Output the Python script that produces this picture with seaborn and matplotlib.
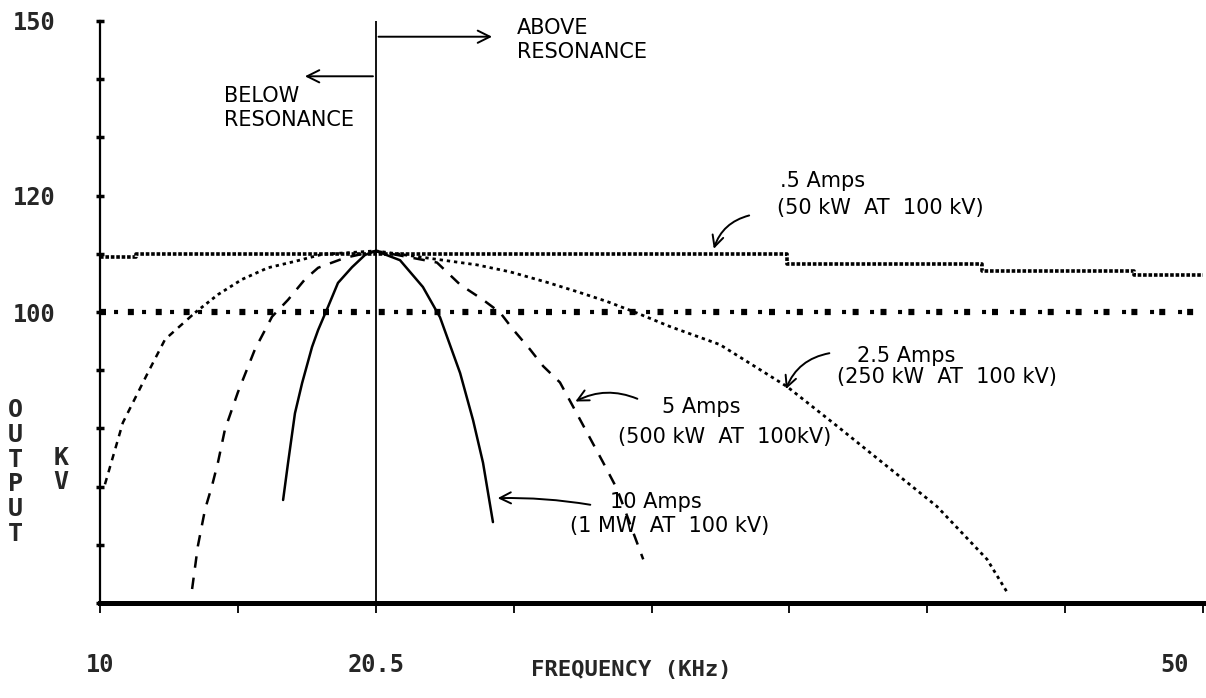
import numpy as np
import pandas as pd
import matplotlib
matplotlib.use("Agg")
import matplotlib.pyplot as plt
import matplotlib.transforms as mtransforms
import seaborn as sns
from matplotlib import font_manager

# ---------------- data ----------------
freq_ticks = [10, 15, 20, 25, 30, 35, 40, 45, 50]
freq_tick_labels = ["10", "", "20.5", "", "", "", "", "", "50"]
kv_ticks = [50, 60, 70, 80, 90, 100, 110, 120, 130, 140, 150]
kv_tick_labels = ["", "", "", "", "", "100", "", "120", "", "", "150"]

# 0.5 A (50 kW at 100 kV): stepped, nearly flat
half_amp_freq = [10.0, 11.3, 34.9, 42.0, 47.5, 50.0]
half_amp_kv = [109.4, 109.9, 108.2, 107.1, 106.3, 106.3]

# reference level
ref_freq = [10.0, 50.0]
ref_kv = [100.0, 100.0]

# 2.5 A (250 kW at 100 kV)
a25_freq = [10.18, 10.83, 11.74, 12.36, 13.45, 14.28, 15.15, 16.09, 17.07, 18.05,
            20.0, 23.67, 24.87, 26.21, 27.30, 28.39, 29.33, 30.67, 32.48, 34.91,
            36.73, 38.54, 40.35, 42.17, 42.89]
a25_kv = [70.4, 81.0, 89.6, 95.3, 99.9, 103.0, 105.6, 107.6, 108.7, 109.9,
          110.5, 108.1, 106.9, 105.1, 103.5, 101.8, 100.1, 97.5, 94.4, 87.2,
          80.4, 73.5, 66.6, 57.5, 51.9]

# 5 A (500 kW at 100 kV)
a5_freq = [13.34, 13.55, 13.81, 14.06, 14.28, 14.53, 15.00, 15.62, 16.24, 16.82,
           17.43, 17.91, 18.88, 20.0, 22.22, 23.06, 23.89, 24.51, 24.98, 25.59,
           26.07, 26.68, 27.15, 27.66, 28.24, 28.75, 29.70]
a5_kv = [52.4, 59.8, 66.1, 70.1, 74.2, 79.8, 86.2, 93.6, 99.2, 102.1,
         105.6, 107.6, 109.3, 110.5, 108.5, 104.7, 102.1, 99.9, 97.0, 93.6,
         90.7, 87.9, 83.8, 79.3, 74.2, 69.6, 57.5]

# 10 A (1 MW at 100 kV)
a10_freq = [16.64, 16.82, 17.07, 17.33, 17.69, 17.91, 18.27, 18.63, 19.14, 19.61,
            20.0, 20.88, 21.71, 22.33, 23.06, 23.53, 23.89, 24.25]
a10_kv = [67.7, 74.1, 82.6, 87.8, 94.0, 96.9, 100.9, 105.0, 107.7, 109.8,
          110.5, 108.9, 104.3, 99.1, 89.5, 81.4, 74.1, 63.9]

# ---------------- fonts ----------------
sns.set_theme(style="white")
names = {f.name for f in font_manager.fontManager.ttflist}
if "Liberation Sans Narrow" in names:
    bold_family = ["Liberation Sans Narrow", "DejaVu Sans"]
    tick_size, lab_size = 21, 19
else:
    bold_family = ["DejaVu Sans Mono", "DejaVu Sans"]
    tick_size, lab_size = 17, 16
plt.rcParams["font.family"] = ["DejaVu Sans"]
hand = dict(family=["DejaVu Sans"], fontsize=15, color="black")

# ---------------- figure ----------------
fig = plt.figure(figsize=(12.06, 6.98), dpi=100)
ax = fig.add_axes([100 / 1206, 1 - 603 / 698, 1103 / 1206, 582 / 698])
ax.set_xlim(10, 50)
ax.set_ylim(50, 150)
ax.set_facecolor("white")

# 0.5 A line
sns.lineplot(x=half_amp_freq, y=half_amp_kv, ax=ax, color="black", lw=2.6,
             drawstyle="steps-post", estimator=None, sort=False)
ax.lines[-1].set_linestyle((0, (1.0, 0.5)))

# 100 kV reference: alternating big and small dots
sns.lineplot(x=ref_freq, y=ref_kv, ax=ax, color="black", lw=4.5,
             estimator=None, sort=False)
ax.lines[-1].set_linestyle((0, (0.96, 3.5)))
sns.lineplot(x=ref_freq, y=ref_kv, ax=ax, color="black", lw=3.0,
             estimator=None, sort=False)
ax.lines[-1].set_linestyle((3.35, (0.96, 5.76)))

# 2.5 A: dashed lower-left branch, dotted elsewhere
a25_f = np.array(a25_freq)
a25_v = np.array(a25_kv)
split = int(np.argmax(a25_v >= 99.5))
sns.lineplot(x=a25_f[:split + 1], y=a25_v[:split + 1], ax=ax, color="black", lw=1.8,
             estimator=None, sort=False)
ax.lines[-1].set_linestyle((0, (2.6, 2.4)))
sns.lineplot(x=a25_f[split:], y=a25_v[split:], ax=ax, color="black", lw=2.0,
             estimator=None, sort=False)
ax.lines[-1].set_linestyle((0, (1.2, 1.4)))

# 5 A: long dashes
sns.lineplot(x=a5_freq, y=a5_kv, ax=ax, color="black", lw=1.8,
             estimator=None, sort=False)
ax.lines[-1].set_linestyle((0, (4.6, 4.0)))

# 10 A: solid
sns.lineplot(x=a10_freq, y=a10_kv, ax=ax, color="black", lw=1.8,
             estimator=None, sort=False)

# resonance line
ax.axvline(freq_ticks[2], color="black", lw=1.3)

# ---------------- axes styling ----------------
for s in ["top", "right"]:
    ax.spines[s].set_visible(False)
ax.spines["left"].set_color("black")
ax.spines["left"].set_linewidth(1.6)
ax.spines["bottom"].set_color("black")
ax.spines["bottom"].set_linewidth(3.6)
ax.grid(False)

ax.set_xticks(freq_ticks)
ax.set_xticklabels(freq_tick_labels, family=bold_family, fontweight="bold",
                   fontsize=tick_size)
ax.set_yticks(kv_ticks)
ax.set_yticklabels(kv_tick_labels, family=bold_family, fontweight="bold",
                   fontsize=tick_size)
ax.tick_params(axis="x", direction="out", length=7, width=1.3, color="black",
               pad=29, bottom=True)
ax.tick_params(axis="y", direction="inout", length=6, width=2.5, color="black",
               pad=29, left=True)

# last frequency label sits left of the axis end, as in the original
last_lbl = ax.get_xticklabels()[-1]
last_lbl.set_horizontalalignment("right")
last_lbl.set_transform(last_lbl.get_transform() +
                       mtransforms.ScaledTranslation(-14 / 100, 0, fig.dpi_scale_trans))

ax.set_xlabel("FREQUENCY (KHz)", family=bold_family, fontweight="bold",
              fontsize=lab_size, va="center", ha="center")
ax.xaxis.set_label_coords((631 - 100) / 1103, (603 - 670) / 582)
ax.set_ylabel("O\nU\nT\nP\nU\nT", family=bold_family, fontweight="bold",
              fontsize=lab_size + 2, rotation=0, va="center", ha="center",
              linespacing=1.05)
ax.yaxis.set_label_coords((15 - 100) / 1103, (603 - 472) / 582)
fig.text(61 / 1206, 1 - 470 / 698, "K\nV", family=bold_family, fontweight="bold",
         fontsize=lab_size + 2, ha="center", va="center", linespacing=1.05)

# ---------------- annotations ----------------
ax.text(25.12, 150.6, "ABOVE\nRESONANCE", va="top", ha="left", linespacing=1.25, **hand)
ax.annotate("", xy=(24.32, 147.3), xytext=(20.0, 147.3),
            arrowprops=dict(arrowstyle="->", lw=1.4, color="black", mutation_scale=22))
ax.text(14.5, 138.9, "BELOW\nRESONANCE", va="top", ha="left", linespacing=1.25, **hand)
ax.annotate("", xy=(17.33, 140.5), xytext=(20.0, 140.5),
            arrowprops=dict(arrowstyle="->", lw=1.4, color="black", mutation_scale=22))

ax.text(34.66, 124.2, ".5 Amps", va="top", ha="left", **hand)
ax.text(34.55, 119.6, "(50 kW  AT  100 kV)", va="top", ha="left", **hand)
ax.annotate("", xy=(32.23, 110.4), xytext=(33.64, 116.7),
            arrowprops=dict(arrowstyle="->", lw=1.4, color="black", mutation_scale=20,
                            connectionstyle="arc3,rad=0.3"))

ax.text(37.45, 94.2, "2.5 Amps", va="top", ha="left", **hand)
ax.text(36.73, 90.6, "(250 kW  AT  100 kV)", va="top", ha="left", **hand)
ax.annotate("", xy=(34.84, 86.3), xytext=(36.55, 93.0),
            arrowprops=dict(arrowstyle="->", lw=1.4, color="black", mutation_scale=20,
                            connectionstyle="arc3,rad=0.3"))

ax.text(30.38, 85.4, "5 Amps", va="top", ha="left", **hand)
ax.text(28.79, 80.3, "(500 kW  AT  100kV)", va="top", ha="left", **hand)
ax.annotate("", xy=(27.15, 84.4), xytext=(29.58, 84.9),
            arrowprops=dict(arrowstyle="->", lw=1.4, color="black", mutation_scale=20,
                            connectionstyle="arc3,rad=0.25"))

ax.text(28.5, 69.1, "10 Amps", va="top", ha="left", **hand)
ax.text(27.04, 65.0, "(1 MW  AT  100 kV)", va="top", ha="left", **hand)
ax.annotate("", xy=(24.32, 68.0), xytext=(27.88, 66.8),
            arrowprops=dict(arrowstyle="->", lw=1.4, color="black", mutation_scale=20,
                            connectionstyle="arc3,rad=0.05"))

fig.savefig("out.png", dpi=100, facecolor="white")
